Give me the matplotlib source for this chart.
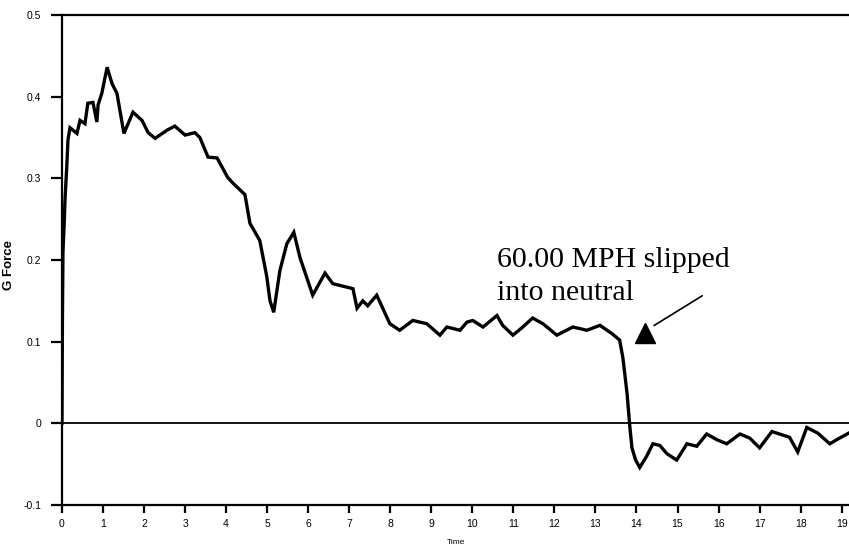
import matplotlib
matplotlib.use("Agg")
import matplotlib.pyplot as plt

# G force trace
time = [0.0, 0.01, 0.024, 0.05, 0.073, 0.12, 0.146, 0.195, 0.365, 0.44,
        0.56, 0.63, 0.755, 0.85, 0.88, 0.97, 1.10, 1.22, 1.34, 1.51,
        1.73, 1.95, 2.10, 2.27, 2.56, 2.75, 3.00, 3.24, 3.36, 3.56,
        3.78, 4.04, 4.17, 4.46, 4.58, 4.82, 4.99, 5.07, 5.16, 5.31,
        5.48, 5.65, 5.80, 6.11, 6.41, 6.60, 7.09, 7.19, 7.33, 7.45,
        7.67, 7.99, 8.23, 8.55, 8.89, 9.21, 9.38, 9.70, 9.87, 10.01,
        10.26, 10.60, 10.74, 10.99, 11.23, 11.47, 11.72, 12.06, 12.45, 12.79,
        13.11, 13.40, 13.59, 13.67, 13.77, 13.84, 13.89, 13.98, 14.08, 14.25,
        14.40, 14.57, 14.74, 14.98, 15.23, 15.47, 15.71, 15.96, 16.20, 16.52,
        16.76, 17.00, 17.30, 17.73, 17.93, 18.15, 18.42, 18.71, 18.95, 19.17]
gforce = [0.0, 0.12, 0.21, 0.24, 0.273, 0.318, 0.347, 0.362, 0.355, 0.371,
          0.367, 0.392, 0.393, 0.369, 0.39, 0.404, 0.436, 0.416, 0.404, 0.355,
          0.381, 0.371, 0.356, 0.349, 0.359, 0.364, 0.353, 0.356, 0.35, 0.326,
          0.325, 0.301, 0.294, 0.280, 0.245, 0.224, 0.18, 0.15, 0.136, 0.187,
          0.22, 0.234, 0.203, 0.157, 0.184, 0.171, 0.165, 0.141, 0.15, 0.144,
          0.157, 0.122, 0.114, 0.126, 0.122, 0.108, 0.118, 0.114, 0.124, 0.126,
          0.118, 0.132, 0.120, 0.108, 0.118, 0.129, 0.122, 0.108, 0.118, 0.114,
          0.12, 0.11, 0.102, 0.08, 0.037, -0.005, -0.03, -0.045, -0.054, -0.04,
          -0.025, -0.027, -0.037, -0.045, -0.025, -0.028, -0.013, -0.02, -0.025, -0.013,
          -0.018, -0.03, -0.01, -0.017, -0.035, -0.005, -0.012, -0.025, -0.018, -0.012]

xticks = list(range(0, 20))
yticks = [-0.1, 0, 0.1, 0.2, 0.3, 0.4, 0.5]
ylabels = ["-0.1", "0", "0.1", "0.2", "0.3", "0.4", "0.5"]

fig = plt.figure(figsize=(8.49, 5.46), dpi=100)
ax = fig.add_axes([0.073, 0.075, 0.928, 0.8975])

ax.plot(time, gforce, color="black", lw=2.4, solid_joinstyle="miter")
ax.axhline(0, color="black", lw=1.3)

ax.set_xlim(0, 19.2)
ax.set_ylim(-0.1, 0.5)
ax.set_xticks(xticks)
ax.set_yticks(yticks)
ax.set_yticklabels(ylabels)

for side in ["left", "top", "bottom"]:
    ax.spines[side].set_linewidth(1.6)
ax.spines["right"].set_visible(False)

ax.tick_params(axis="x", direction="out", length=6, width=1.6, pad=4,
               labelsize=7.5, labelfontfamily="Liberation Sans")
ax.tick_params(axis="y", direction="out", length=8, width=1.6, pad=7,
               labelsize=7.5, labelfontfamily="Liberation Sans")

ax.set_xlabel("Time", fontsize=6, family="Liberation Sans")
ax.xaxis.set_label_coords(0.5, -0.07)
ax.set_ylabel("G Force", fontsize=9.5, family="Liberation Sans",
              fontweight="bold")
ax.yaxis.set_label_coords(-0.06, 0.49)

# annotation
ax.text(10.6, 0.192, "60.00 MPH slipped", family="Liberation Serif",
        fontsize=21.5, va="baseline", ha="left")
ax.text(10.6, 0.151, "into neutral", family="Liberation Serif",
        fontsize=21.5, va="baseline", ha="left")
ax.annotate("", xy=(14.37, 0.118), xytext=(15.66, 0.158),
            arrowprops=dict(arrowstyle="-", color="black", lw=1.2))
ax.plot([14.2], [0.111], marker="^", color="black", markersize=15)

fig.savefig("out.png", dpi=100)
